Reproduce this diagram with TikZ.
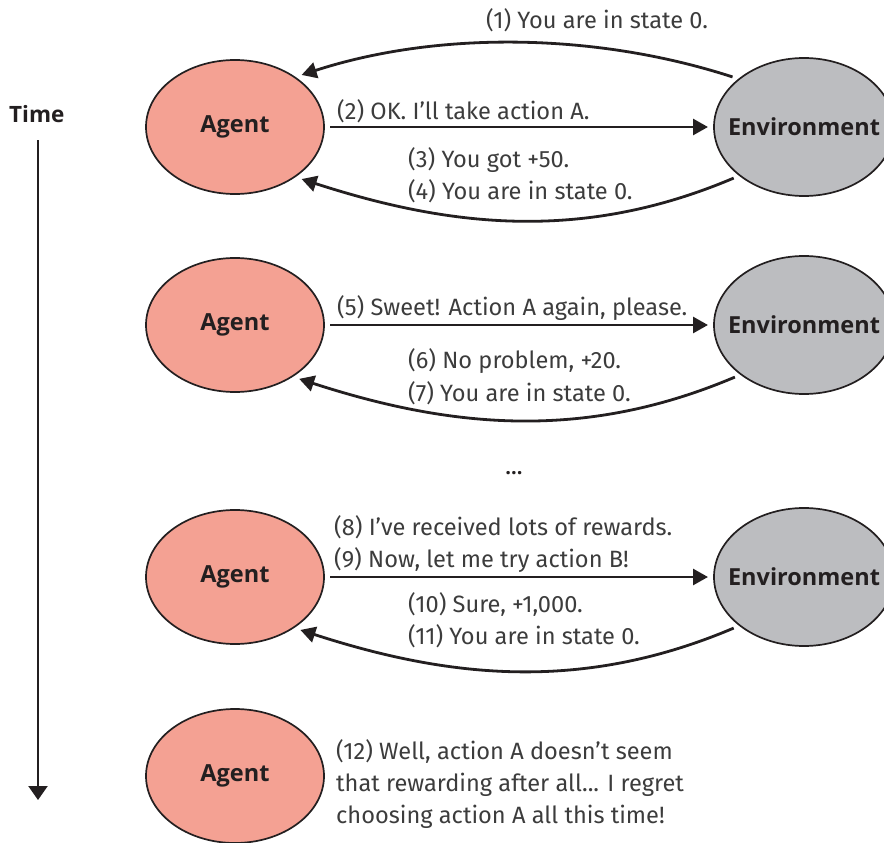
\documentclass[tikz,border=0pt]{standalone}
\usepackage{fontspec}
\setmainfont{Fira Sans}
\newfontfamily\labelfont{Open Sans}
\usetikzlibrary{arrows.meta,shapes.geometric}
\definecolor{agentfill}{HTML}{F4A193}
\definecolor{envfill}{HTML}{BCBDC0}
\definecolor{ink}{HTML}{231F20}
\definecolor{note}{HTML}{3C3C3C}
% the ellipse keeps its fixed size: the name takes no width of its own
\newcommand\zerowidth[1]{\makebox[0pt]{#1}}
\begin{document}
\begin{tikzpicture}[x=1pt,y=1pt,
  actor/.style={ellipse,draw=ink,line width=1.7pt,minimum width=178pt,minimum height=134pt,
    inner sep=0pt,outer sep=6pt,text=ink,font=\labelfont\bfseries\fontsize{23.5}{26}\selectfont},
  agentnode/.style={actor,fill=agentfill},
  envnode/.style={actor,fill=envfill,minimum width=180pt,minimum height=138pt},
  msg/.style={draw=ink,line width=2.8pt,-{Triangle[length=15pt,width=16pt]}},
  reply/.style={msg,out=203,in=-18,looseness=0.95},
  timeline/.style={draw=ink,line width=2.2pt,-{Triangle[length=14pt,width=19pt]}},
  say/.style={anchor=base west,inner sep=0pt,text=note,font=\fontsize{23.6}{32}\selectfont},
  heading/.style={anchor=base west,inner sep=0pt,text=ink,font=\labelfont\bfseries\fontsize{22.5}{26}\selectfont},
]
\useasboundingbox (0,0) rectangle (884,-843);

% time axis
\node[heading] (time) at (9,-122) {Time};
\coordinate (tstart) at (38,-140);
\coordinate (tend) at (38,-800);
\draw[timeline] (tstart) -- (tend);

% first exchange
\node[agentnode] (a1) at (235,-127) {\zerowidth{Agent}};
\node[envnode] (e1) at (804,-127) {\zerowidth{Environment}};
\draw[msg] (e1.145) to[out=162,in=18,looseness=0.85] (a1.38);
\draw[msg] (a1.east) -- (e1.west);
\draw[reply] (e1.216) to (a1.-38);
\node[say] (m1) at (486,-29) {(1) You are in state 0.};
\node[say] (m2) at (337,-120) {(2) OK. I'll take action A.};
\node[say] (m3) at (408,-167) {(3) You got +50.};
\node[say] (m4) at (408,-199) {(4) You are in state 0.};

% second exchange
\node[agentnode] (a2) at (235,-325) {\zerowidth{Agent}};
\node[envnode] (e2) at (804,-325) {\zerowidth{Environment}};
\draw[msg] (a2.east) -- (e2.west);
\draw[reply] (e2.217) to (a2.-40);
\node[say] (m5) at (337,-315) {(5) Sweet! Action A again, please.};
\node[say] (m6) at (408,-368) {(6) No problem, +20.};
\node[say] (m7) at (408,-401) {(7) You are in state 0.};

\node[heading,anchor=base,font=\labelfont\bfseries\fontsize{20}{24}\selectfont] (dots) at (514,-474) {...};

% third exchange
\node[agentnode] (a3) at (235,-577) {\zerowidth{Agent}};
\node[envnode] (e3) at (804,-577) {\zerowidth{Environment}};
\draw[msg] (a3.east) -- (e3.west);
\draw[reply] (e3.216) to (a3.-39);
\node[say] (m8) at (334,-535) {(8) I've received lots of rewards.};
\node[say] (m9) at (334,-567) {(9) Now, let me try action B!};
\node[say] (m10) at (408,-612) {(10) Sure, +1,000.};
\node[say] (m11) at (408,-644) {(11) You are in state 0.};

% final thought
\node[agentnode] (a4) at (235,-776) {\zerowidth{Agent}};
\node[say] (m12a) at (336,-759) {(12) Well, action A doesn't seem};
\node[say] (m12b) at (336,-791) {that rewarding after all... I regret};
\node[say] (m12c) at (336,-823) {choosing action A all this time!};
\end{tikzpicture}
\end{document}
